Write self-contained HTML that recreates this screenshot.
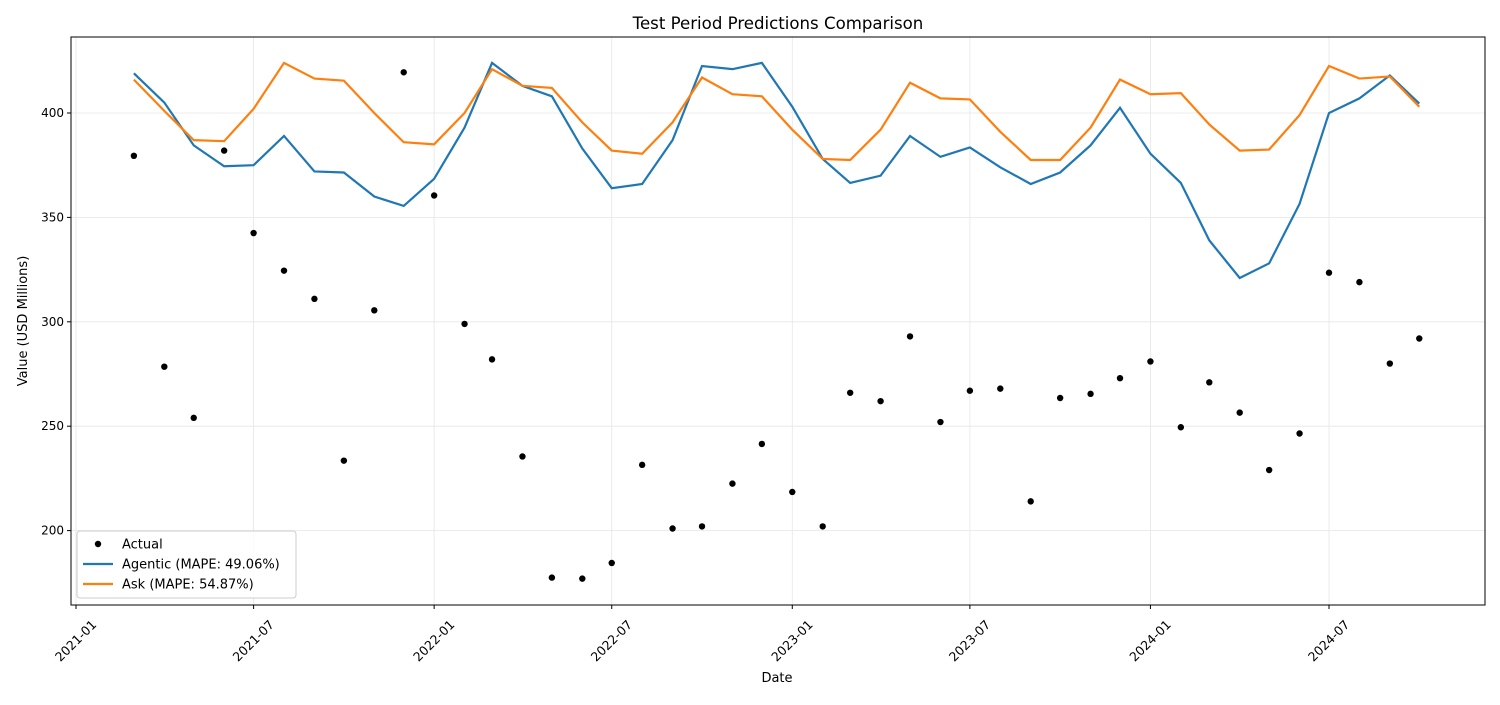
<!DOCTYPE html>
<html><head><meta charset="utf-8"><style>
body{margin:0;background:#fff;font-family:"Liberation Sans","DejaVu Sans",sans-serif}
svg text{font-family:"DejaVu Sans","Liberation Sans",sans-serif;fill:#000}
</style></head><body>
<svg id="c" width="1500" height="700"></svg>
<script>
const startMonth=[2021,3];
const actual=[379.5,278.5,254,382,342.5,324.5,311,233.5,305.5,419.5,360.5,299,282,235.5,177.5,177,184.5,231.5,201,202,222.5,241.5,218.5,202,266,262,293,252,267,268,214,263.5,265.5,273,281,249.5,271,256.5,229,246.5,323.5,319,280,292];
const agentic=[419,405,384.5,374.5,375,389,372,371.5,360,355.5,368.5,393,424,413,408,383,364,366,387,422.5,421,424,403,378,366.5,370,389,379,383.5,374,366,371.5,384.5,402.5,380.5,366.5,339,321,328,356.5,400,407,418,404.5];
const ask=[416,401,387,386.5,402,424,416.5,415.5,400,386,385,400,421,413,412,395.5,382,380.5,395.5,417,409,408,392,378,377.5,392,414.5,407,406.5,391,377.5,377.5,393,416,409,409.5,394.5,382,382.5,399,422.5,416.5,417.5,403];
const yTicks=[200,250,300,350,400];
const xTicks=["2021-01","2021-07","2022-01","2022-07","2023-01","2023-07","2024-01","2024-07"];

const NS="http://www.w3.org/2000/svg";
const svg=document.getElementById('c');
const L=71,R=1485,T=37,B=605;
const t0=Date.UTC(2021,0,1),t1=Date.UTC(2024,6,1);
function xScale(ms){return 76+(ms-t0)/(t1-t0)*(1329-76);}
function yScale(v){return 113+(400-v)*2.088;}
function dateOf(i){return Date.UTC(startMonth[0],startMonth[1]-1+i,1);}
function mk(tag,attrs,parent){const e=document.createElementNS(NS,tag);for(const k in attrs)e.setAttribute(k,attrs[k]);(parent||svg).appendChild(e);return e;}

const grid=mk('g',{});


yTicks.forEach(v=>{const y=yScale(v);
 mk('line',{x1:L,x2:R,y1:y,y2:y,stroke:'#e6e6e6','stroke-width':0.8},grid);
 mk('line',{x1:L-4,x2:L,y1:y,y2:y,stroke:'#000'});
 const t=mk('text',{x:L-7,y:y+4,'text-anchor':'end','font-size':12});t.textContent=v;
 
 
});
xTicks.forEach(s=>{const [yy,mm]=s.split('-').map(Number);const x=xScale(Date.UTC(yy,mm-1,1));
 mk('line',{x1:x,x2:x,y1:T,y2:B,stroke:'#e6e6e6','stroke-width':0.8},grid);
 mk('line',{x1:x,x2:x,y1:B,y2:B+4,stroke:'#000'});
 const cy=641;
 const t=mk('text',{x:x,y:cy+4,'text-anchor':'middle','font-size':12.5,transform:`rotate(-45 ${x} ${cy})`});t.textContent=s;
 
 
});

function line(arr,color,name){const p=mk('polyline',{points:arr.map((v,i)=>xScale(dateOf(i))+','+yScale(v)).join(' '),fill:'none',stroke:color,'stroke-width':2.2});
 
 }
line(agentic,'#1f77b4','agentic-line');
line(ask,'#ff7f0e','ask-line');
actual.forEach((v,i)=>{const c=mk('circle',{cx:xScale(dateOf(i)),cy:yScale(v),r:3.2,fill:'#000'});
 
 });

const frame=mk('rect',{x:L,y:T,width:R-L,height:B-T,fill:'none',stroke:'#000','stroke-width':1});



let t=mk('text',{x:(L+R)/2,y:29,'text-anchor':'middle','font-size':16.6});t.textContent='Test Period Predictions Comparison';


t=mk('text',{x:777,y:682,'text-anchor':'middle','font-size':13});t.textContent='Date';


t=mk('text',{x:27,y:321,'text-anchor':'middle','font-size':13,transform:'rotate(-90 27 321)'});t.textContent='Value (USD Millions)';



const lg=mk('g',{});


mk('rect',{x:77,y:531,width:219,height:67,rx:3,fill:'#fff','fill-opacity':0.8,stroke:'#ccc'},lg);
const entries=[['Actual','dot','#000'],['Agentic (MAPE: 49.06%)','line','#1f77b4'],['Ask (MAPE: 54.87%)','line','#ff7f0e']];
entries.forEach((e,i)=>{const y=544+i*20;const g=mk('g',{},lg);
 
 
 if(e[1]==='dot')mk('circle',{cx:98,cy:y,r:3.2,fill:e[2]},g);else mk('line',{x1:83,x2:113,y1:y,y2:y,stroke:e[2],'stroke-width':2.2},g);
 const tx=mk('text',{x:122,y:y+4.5,'font-size':13},g);tx.textContent=e[0];});
</script>
</body></html>
